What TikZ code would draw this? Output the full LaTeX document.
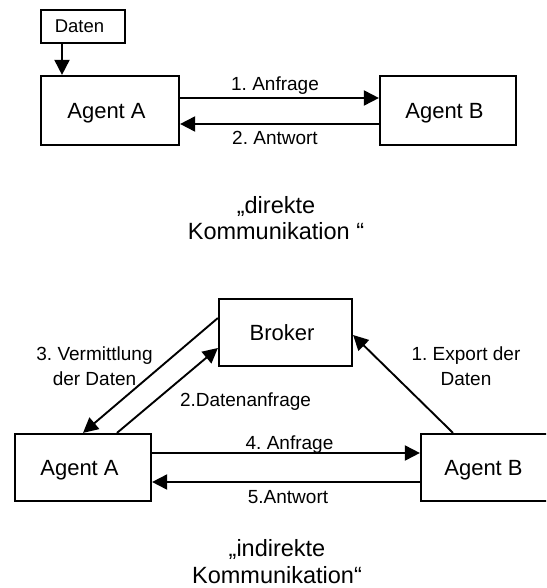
\documentclass[tikz,border=0pt]{standalone}
\usepackage{fontspec}
\setmainfont{Liberation Sans}
\usetikzlibrary{arrows.meta}
\frenchspacing

\tikzset{
  box/.style={draw, line width=2.2pt, inner sep=0pt, text depth=0pt,
    font=\fontsize{22}{26}\selectfont,
    execute at end node={\hspace{7pt}}},
  smallbox/.style={box, font=\fontsize{18.5}{22}\selectfont},
  conn/.style={line width=1.9pt, -{Triangle[length=15pt,width=15pt]}},
  lbl/.style={anchor=base, inner sep=0pt, font=\fontsize{19}{23}\selectfont},
  caption/.style={anchor=base, inner sep=0pt, font=\fontsize{23.5}{27}\selectfont},
}

\begin{document}
\begin{tikzpicture}[x=1pt, y=-1pt]
  \clip (0,0) rectangle (546,588);

  % --- direct communication ---
  \node[smallbox, minimum width=84pt, minimum height=33pt] (daten) at (83,26.5) {Daten};
  \node[box, minimum width=138pt, minimum height=69pt] (a1) at (110,110.5) {Agent A};
  \node[box, minimum width=136pt, minimum height=69pt] (b1) at (448,110.5) {Agent B};

  \draw[conn] ([xshift=-21pt]daten.south) -- ([xshift=-21pt]daten.south |- a1.north);
  \draw[conn] ([yshift=12.5pt]a1.east) -- ([yshift=12.5pt]b1.west);
  \draw[conn] ([yshift=-13.5pt]b1.west) -- ([yshift=-13.5pt]a1.east);

  \node[lbl] (l1) at (275,91) {1. Anfrage};
  \node[lbl] (l2) at (275,145) {2. Antwort};

  \node[caption] (c1a) at (276,213) {„direkte};
  \node[caption] (c1b) at (276,239) {Kommunikation “};

  % --- indirect communication via broker ---
  \node[box, minimum width=133pt, minimum height=67pt] (br) at (285.5,332.5) {Broker};
  \node[box, minimum width=136pt, minimum height=67pt] (a2) at (83,467.5) {Agent A};
  \node[box, minimum width=132pt, minimum height=67pt] (b2) at (487,467.5) {Agent B};

  \draw[conn] ([xshift=-34pt]b2.north) -- ([yshift=-2.5pt]br.east);
  \draw[conn] ([xshift=34pt]a2.north) -- ([yshift=-15.5pt]br.west);
  \draw[conn] ([yshift=14.5pt]br.west) -- (a2.north);
  \draw[conn] ([yshift=14.5pt]a2.east) -- ([yshift=14.5pt]b2.west);
  \draw[conn] ([yshift=-14.5pt]b2.west) -- ([yshift=-14.5pt]a2.east);

  \node[lbl] (l3a) at (94.5,360) {3. Vermittlung};
  \node[lbl] (l3b) at (94.5,385) {der Daten};
  \node[lbl] (l1a) at (466,360) {1. Export der};
  \node[lbl] (l1b) at (466,385) {Daten};
  \node[lbl] (l4) at (245.5,406) {2.Datenanfrage};
  \node[lbl] (l5) at (289.5,449) {4. Anfrage};
  \node[lbl] (l6) at (288,503) {5.Antwort};

  \node[caption] (c2a) at (277,556) {„indirekte};
  \node[caption] (c2b) at (277,583) {Kommunikation“};
\end{tikzpicture}
\end{document}
